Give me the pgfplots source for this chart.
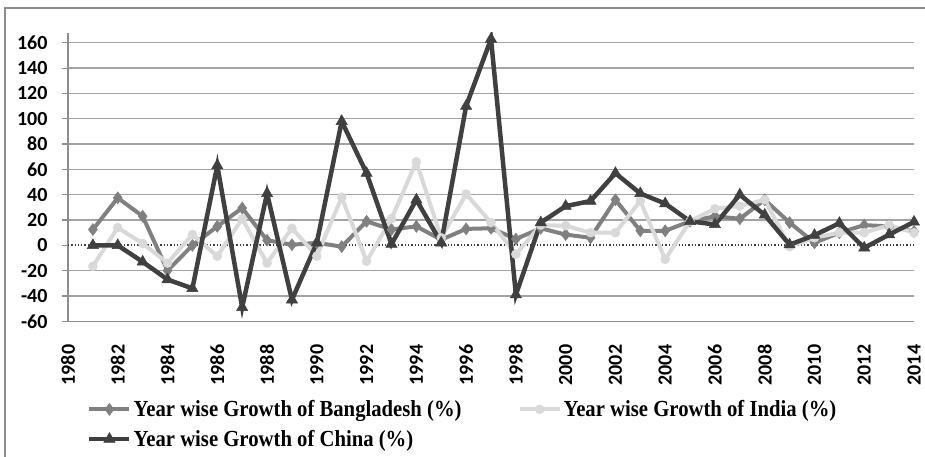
\documentclass[border=0pt]{standalone}
\usepackage{fontspec}
\setmainfont{Carlito}
\newfontfamily\legfont{Liberation Serif}
\usepackage{pgfplots}
\pgfplotsset{compat=1.18}
\definecolor{bdcol}{HTML}{808080}
\definecolor{incol}{HTML}{D9D9D9}
\definecolor{cncol}{HTML}{404040}
\definecolor{gridcol}{HTML}{A3A3A3}
\definecolor{framecol}{HTML}{8C8C8C}
\begin{document}
\begin{tikzpicture}
\useasboundingbox (-68pt,-134.7pt) rectangle (857pt,321.3pt);
\clip (-68pt,-134.7pt) rectangle (857pt,321.3pt);
\draw[framecol, line width=1.3pt] (-63pt,-200pt) -- (-63pt,313.3pt) -- (900pt,313.3pt);
\begin{axis}[
  at={(0pt,0pt)}, anchor=south west,
  scale only axis, width=846pt, height=288.6pt,
  xmin=1980, xmax=2014, ymin=-60, ymax=168,
  axis x line*=bottom, axis y line*=left,
  axis line style={-, framecol, line width=1.3pt},
  xtick={1980,1982,...,2014},
  ytick={-60,-40,-20,20,40,60,80,100,120,140,160},
  extra y ticks={0},
  extra y tick style={grid style={dotted, cncol, line width=1.8pt}},
  minor y tick num=4,
  ymajorgrids,
  grid style={gridcol, line width=1.3pt},
  tick align=outside,
  x tick style={draw=none},
  major y tick style={framecol, line width=1.2pt},
  minor y tick style={framecol, line width=0.9pt},
  major tick length=6pt,
  minor tick length=-5pt,
  /pgf/number format/assume math mode=true,
  /pgf/number format/1000 sep={},
  yticklabel style={font=\bfseries\fontsize{20}{20}\selectfont, xshift=-11pt},
  xticklabel style={font=\bfseries\fontsize{20}{20}\selectfont, rotate=90, anchor=east},
  xticklabel shift=14pt,
  legend style={draw=none, fill=none, at={(0,0)}, anchor=north west, xshift=16pt, yshift=-75pt,
    font=\legfont\bfseries\fontsize{23}{23}\selectfont, legend columns=2, row sep=8pt,
    /tikz/every even column/.append style={column sep=54pt}},
  legend cell align=left,
  legend image code/.code={\draw[mark repeat=2,mark phase=2] plot coordinates {(0pt,0pt)(20pt,0pt)(40pt,0pt)};},
]
\addplot[bdcol, line width=4pt, mark=diamond*, mark size=6pt, mark options={solid, line width=0.5pt}] coordinates {
(1981,12.5) (1982,37.5) (1983,23) (1984,-20) (1985,0) (1986,15) (1987,29.5) (1988,4) (1989,0.5) (1990,2)
(1991,-1) (1992,19) (1993,12.5) (1994,15) (1995,4.5) (1996,13) (1997,13.5) (1998,5) (1999,13.5) (2000,8.5)
(2001,6) (2002,36) (2003,11.5) (2004,11.5) (2005,19) (2006,23) (2007,21) (2008,36) (2009,18) (2010,2)
(2011,10) (2012,16) (2013,15) (2014,11)};
\addlegendentry{\scalebox{0.9}[1]{Year wise Growth of Bangladesh (\%)}}
\addplot[incol, line width=4pt, mark=*, mark size=4.5pt, mark options={solid, line width=0.5pt}] coordinates {
(1981,-16.5) (1982,14) (1983,1.5) (1984,-14) (1985,8.5) (1986,-8.5) (1987,21) (1988,-14) (1989,13.5) (1990,-8.5)
(1991,38) (1992,-12.5) (1993,21) (1994,66) (1995,6) (1996,40.5) (1997,18) (1998,-7) (1999,16) (2000,15.5)
(2001,10) (2002,10) (2003,35) (2004,-11) (2005,19) (2006,29) (2007,31) (2008,36) (2009,-1) (2010,6)
(2011,10) (2012,10) (2013,16) (2014,10)};
\addlegendentry{\scalebox{0.9}[1]{Year wise Growth of India (\%)}}
\addplot[cncol, line width=4.5pt, mark=triangle*, mark size=6.5pt, mark options={solid, line width=0.5pt}] coordinates {
(1981,0) (1982,0) (1983,-13) (1984,-27) (1985,-34) (1986,63) (1987,-49) (1988,41) (1989,-43) (1990,2)
(1991,98) (1992,57) (1993,1) (1994,36) (1995,2) (1996,110) (1997,163) (1998,-39) (1999,18) (2000,31)
(2001,35) (2002,57) (2003,41) (2004,33) (2005,19) (2006,16.5) (2007,40) (2008,24) (2009,0.5) (2010,8)
(2011,17.5) (2012,-2) (2013,8.5) (2014,18.5)};
\addlegendentry{\scalebox{0.9}[1]{Year wise Growth of China (\%)}}
\end{axis}
\end{tikzpicture}
\end{document}
